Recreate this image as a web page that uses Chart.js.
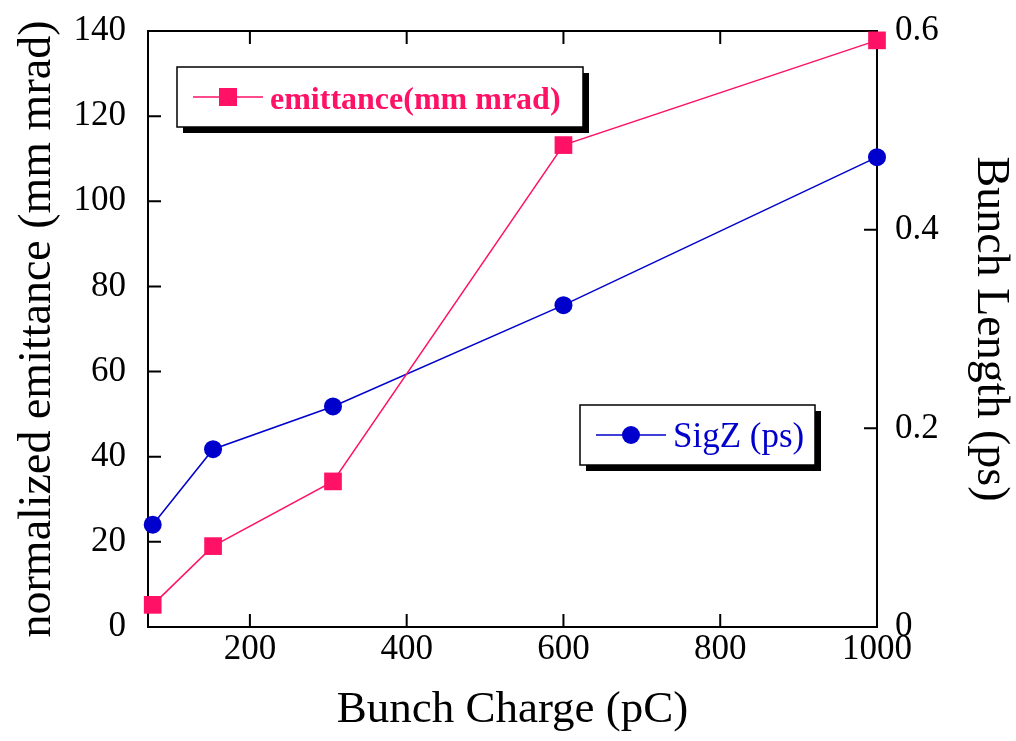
<!DOCTYPE html>
<html>
<head>
<meta charset="utf-8">
<script src="https://cdn.jsdelivr.net/npm/chart.js@4.4.1/dist/chart.umd.min.js"></script>
<style>
  html, body { margin: 0; padding: 0; background: #fff; }
</style>
</head>
<body>
<canvas id="chart" width="1016" height="741"></canvas>
<script>
// bunch charge (pC) vs. emittance and bunch length
const bunchCharge = [76, 153, 306, 600, 1000];
const emittance = [5.2, 19.0, 34.2, 113.2, 137.8];
const sigZ = [0.103, 0.179, 0.222, 0.324, 0.473];

const chargeTicks = [200, 400, 600, 800, 1000];
const emittanceTicks = [0, 20, 40, 60, 80, 100, 120, 140];
const lengthTicks = [0, 0.2, 0.4, 0.6];

const PINK = '#ff1166';
const BLUE = '#0000cc';
const SERIF = '"Liberation Serif", "Times New Roman", serif';

const setTicks = (vals) => (scale) => {
  scale.ticks = vals.map(v => ({ value: v }));
};

// plain box frame with inward tick marks on all four sides
const framePlugin = {
  id: 'frame',
  beforeDatasetsDraw(chart) {
    const { ctx, chartArea: a, scales } = chart;
    const len = 13;
    ctx.save();
    ctx.strokeStyle = '#000';
    ctx.lineWidth = 2;
    ctx.strokeRect(a.left, a.top, a.right - a.left, a.bottom - a.top);
    ctx.beginPath();
    chargeTicks.forEach(v => {
      const px = scales.x.getPixelForValue(v);
      ctx.moveTo(px, a.bottom); ctx.lineTo(px, a.bottom - len);
      ctx.moveTo(px, a.top); ctx.lineTo(px, a.top + len);
    });
    emittanceTicks.forEach(v => {
      const py = scales.y.getPixelForValue(v);
      ctx.moveTo(a.left, py); ctx.lineTo(a.left + len, py);
    });
    lengthTicks.forEach(v => {
      const py = scales.y1.getPixelForValue(v);
      ctx.moveTo(a.right, py); ctx.lineTo(a.right - len, py);
    });
    ctx.stroke();
    ctx.restore();
  }
};

// two boxed legends with a drop shadow
const boxLegend = {
  id: 'boxLegend',
  afterDraw(chart) {
    const ctx = chart.ctx;
    const boxes = [
      { x: 177, y: 67, w: 406, h: 60, ds: 0, font: 'bold 32px ' + SERIF },
      { x: 580, y: 405, w: 235, h: 60, ds: 1, font: '35px ' + SERIF }
    ];
    boxes.forEach(b => {
      const d = chart.data.datasets[b.ds];
      ctx.save();
      ctx.fillStyle = '#000';
      ctx.fillRect(b.x + 6, b.y + 6, b.w, b.h);
      ctx.fillStyle = '#fff';
      ctx.fillRect(b.x, b.y, b.w, b.h);
      ctx.strokeStyle = '#000';
      ctx.lineWidth = 1.5;
      ctx.strokeRect(b.x, b.y, b.w, b.h);

      const cy = b.y + 30;
      const lx = b.x + 16;
      ctx.strokeStyle = d.borderColor;
      ctx.lineWidth = 1.5;
      ctx.beginPath();
      ctx.moveTo(lx, cy);
      ctx.lineTo(lx + 70, cy);
      ctx.stroke();
      ctx.fillStyle = d.backgroundColor;
      if (d.pointStyle === 'rect') {
        ctx.fillRect(lx + 35 - 9, cy - 9, 18, 18);
      } else {
        ctx.beginPath();
        ctx.arc(lx + 35, cy, 9, 0, Math.PI * 2);
        ctx.fill();
      }
      ctx.font = b.font;
      ctx.textBaseline = 'alphabetic';
      ctx.fillText(d.label, lx + 77, cy + 12);
      ctx.restore();
    });
  }
};

// tick marks are drawn by framePlugin; tickLength only spaces the labels
const hiddenGrid = (len) => ({ display: false, drawTicks: true, tickLength: len });

new Chart(document.getElementById('chart'), {
  type: 'line',
  data: {
    datasets: [
      {
        label: 'emittance(mm mrad)',
        data: bunchCharge.map((x, i) => ({ x, y: emittance[i] })),
        yAxisID: 'y',
        borderColor: PINK,
        backgroundColor: PINK,
        borderWidth: 1.5,
        pointStyle: 'rect',
        pointRadius: 12.5,
        pointBorderWidth: 0,
        clip: false
      },
      {
        label: 'SigZ (ps)',
        data: bunchCharge.map((x, i) => ({ x, y: sigZ[i] })),
        yAxisID: 'y1',
        borderColor: BLUE,
        backgroundColor: BLUE,
        borderWidth: 1.5,
        pointStyle: 'circle',
        pointRadius: 9,
        pointBorderWidth: 0,
        clip: false
      }
    ]
  },
  options: {
    responsive: false,
    animation: false,
    layout: { padding: { top: 31, left: 0, right: 0, bottom: 0 } },
    plugins: {
      legend: { display: false },
      tooltip: { enabled: false }
    },
    scales: {
      x: {
        type: 'linear',
        position: 'bottom',
        min: 70,
        max: 1000,
        afterBuildTicks: setTicks(chargeTicks),
        afterFit: (s) => { s.height = 114; },
        grid: hiddenGrid(2),
        border: { display: false },
        ticks: {
          padding: 0,
          color: '#000',
          font: { family: SERIF, size: 35 },
          maxRotation: 0,
          callback: v => String(v)
        },
        title: {
          display: true,
          text: 'Bunch Charge (pC)',
          color: '#000',
          font: { family: SERIF, size: 45, lineHeight: 1 },
          padding: { top: 0, bottom: 8 }
        }
      },
      y: {
        type: 'linear',
        position: 'left',
        min: 0,
        max: 140,
        afterBuildTicks: setTicks(emittanceTicks),
        afterFit: (s) => { s.width = 148; },
        grid: hiddenGrid(22),
        border: { display: false },
        ticks: {
          padding: 0,
          color: '#000',
          font: { family: SERIF, size: 35 },
          callback: v => String(v)
        },
        title: {
          display: true,
          text: 'normalized emittance (mm mrad)',
          color: '#000',
          font: { family: SERIF, size: 46, lineHeight: 1 },
          padding: { top: 15, bottom: 0 }
        }
      },
      y1: {
        type: 'linear',
        position: 'right',
        min: 0,
        max: 0.6,
        afterBuildTicks: setTicks(lengthTicks),
        afterFit: (s) => { s.width = 139; },
        grid: hiddenGrid(18),
        border: { display: false },
        ticks: {
          padding: 0,
          color: '#000',
          font: { family: SERIF, size: 35 },
          callback: v => String(v)
        },
        title: {
          display: true,
          text: 'Bunch Length (ps)',
          color: '#000',
          font: { family: SERIF, size: 46, lineHeight: 1 },
          padding: { top: 3, bottom: 0 }
        }
      }
    }
  },
  plugins: [framePlugin, boxLegend]
});
</script>
</body>
</html>
